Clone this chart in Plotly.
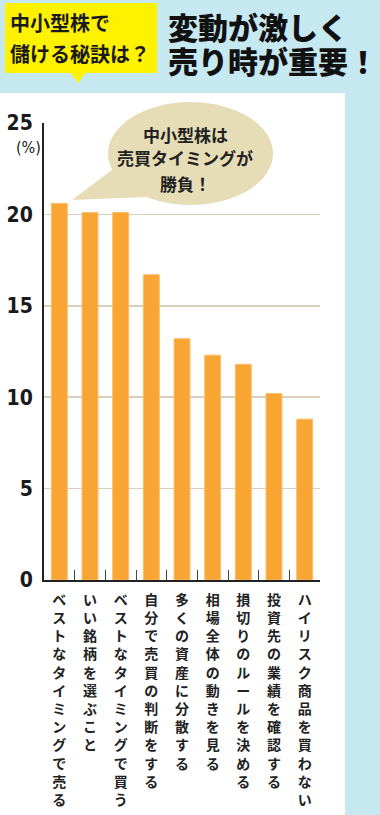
import plotly.graph_objects as go

# ---- data ----
categories = [
    "ベストなタイミングで売る",
    "いい銘柄を選ぶこと",
    "ベストなタイミングで買う",
    "自分で売買の判断をする",
    "多くの資産に分散する",
    "相場全体の動きを見る",
    "損切りのルールを決める",
    "投資先の業績を確認する",
    "ハイリスク商品を買わない",
]
values = [20.6, 20.1, 20.1, 16.7, 13.2, 12.3, 11.8, 10.2, 8.8]
y_ticks = [0, 5, 10, 15, 20, 25]
y_ticklabels = ["0", "5", "10", "15", "20", "25"]
unit_label = "(%)"
bubble_lines = ["中小型株は", "売買タイミングが", "勝負！"]
tag_lines = ["中小型株で", "儲ける秘訣は？"]
headline_lines = ["変動が激しく", "売り時が重要！"]

# vertical (stacked) category labels
x_ticktext = ["<br>".join(list(c)) for c in categories]

# ---- layout geometry (pixels) ----
W, H = 380, 815
L, R, T, B = 44, 60, 123, 235
PW, PH = W - L - R, H - T - B


def px(x):
    return (x - L) / PW


def py(y):
    return (H - B - y) / PH


CJK = "Noto Sans CJK JP, Noto Sans CJK SC, sans-serif"
NUM = "Liberation Sans Narrow, DejaVu Sans Condensed, Arial Narrow, sans-serif"

fig = go.Figure()
fig.add_trace(go.Bar(
    x=categories, y=values,
    marker=dict(color="#f9a534", line=dict(color="#fbbd6a", width=1)),
    hoverinfo="skip",
))

shapes = []
# white panel
shapes.append(dict(type="rect", xref="paper", yref="paper",
                   x0=px(0), x1=px(345), y0=py(815), y1=py(93),
                   fillcolor="white", line=dict(width=0), layer="below"))
# yellow tag
shapes.append(dict(type="rect", xref="paper", yref="paper",
                   x0=px(5), x1=px(157), y0=py(73), y1=py(3),
                   fillcolor="#fff200", line=dict(width=0), layer="above"))
shapes.append(dict(type="path", xref="paper", yref="paper",
                   path=f"M {px(70)} {py(72)} L {px(86)} {py(72)} L {px(78)} {py(83)} Z",
                   fillcolor="#fff200", line=dict(width=0), layer="above"))
# speech bubble
shapes.append(dict(type="path", xref="paper", yref="paper",
                   path=f"M {px(112)} {py(170)} L {px(72)} {py(200)} L {px(148)} {py(197)} Z",
                   fillcolor="#e6dcb6", line=dict(width=0), layer="above"))
shapes.append(dict(type="circle", xref="paper", yref="paper",
                   x0=px(108), x1=px(273), y0=py(205), y1=py(102),
                   fillcolor="#e6dcb6", line=dict(width=0), layer="above"))

annotations = []
# tag text
for t, yy in zip(tag_lines, [23, 53]):
    annotations.append(dict(text=t, xref="paper", yref="paper", x=px(8), y=py(yy),
                            xanchor="left", yanchor="middle", showarrow=False,
                            font=dict(family=CJK, size=20, color="#1a1a1a", weight="bold")))
# headline
for t, yy in zip(headline_lines, [26, 60]):
    annotations.append(dict(text=t, xref="paper", yref="paper", x=px(166), y=py(yy),
                            xanchor="left", yanchor="middle", showarrow=False,
                            font=dict(family=CJK, size=30, color="#111111", weight=900)))
# bubble text
for t, yy in zip(bubble_lines, [134, 158, 183]):
    annotations.append(dict(text=t, xref="paper", yref="paper", x=px(185), y=py(yy),
                            xanchor="center", yanchor="middle", showarrow=False,
                            font=dict(family=CJK, size=17, color="#222222", weight="bold")))
# unit
annotations.append(dict(text=unit_label, xref="paper", yref="paper", x=px(28), y=py(147),
                        xanchor="center", yanchor="middle", showarrow=False,
                        font=dict(family=NUM, size=16, color="#222222")))

fig.update_layout(
    width=W, height=H,
    margin=dict(l=L, r=R, t=T, b=B, pad=0),
    paper_bgcolor="#c6e8f1",
    plot_bgcolor="rgba(0,0,0,0)",
    bargap=0.48,
    showlegend=False,
    shapes=shapes,
    annotations=annotations,
    xaxis=dict(
        type="category", showline=True, linecolor="#222222", linewidth=2,
        ticks="inside", ticklen=10, tickcolor="#444444", tickwidth=1,
        tickson="boundaries", tickvals=categories, ticktext=x_ticktext,
        tickangle=0, ticklabelstandoff=6, automargin=False,
        tickfont=dict(family=CJK, size=14, color="#222222", weight="bold"),
        showgrid=False, zeroline=False, fixedrange=True,
    ),
    yaxis=dict(
        range=[0, 25], tickvals=y_ticks, ticktext=y_ticklabels,
        showline=True, linecolor="#222222", linewidth=2,
        showgrid=True, gridcolor="#d8cfbc", gridwidth=1.5,
        zeroline=False, ticks="", ticklabelstandoff=5, automargin=False,
        tickfont=dict(family=NUM, size=21, color="#1a1a1a", weight="bold"),
        fixedrange=True,
    ),
)

fig.write_html(
    "out.html",
    config={"displayModeBar": False, "staticPlot": True},
    post_script="document.body.style.margin='0';document.documentElement.style.margin='0';",
)
